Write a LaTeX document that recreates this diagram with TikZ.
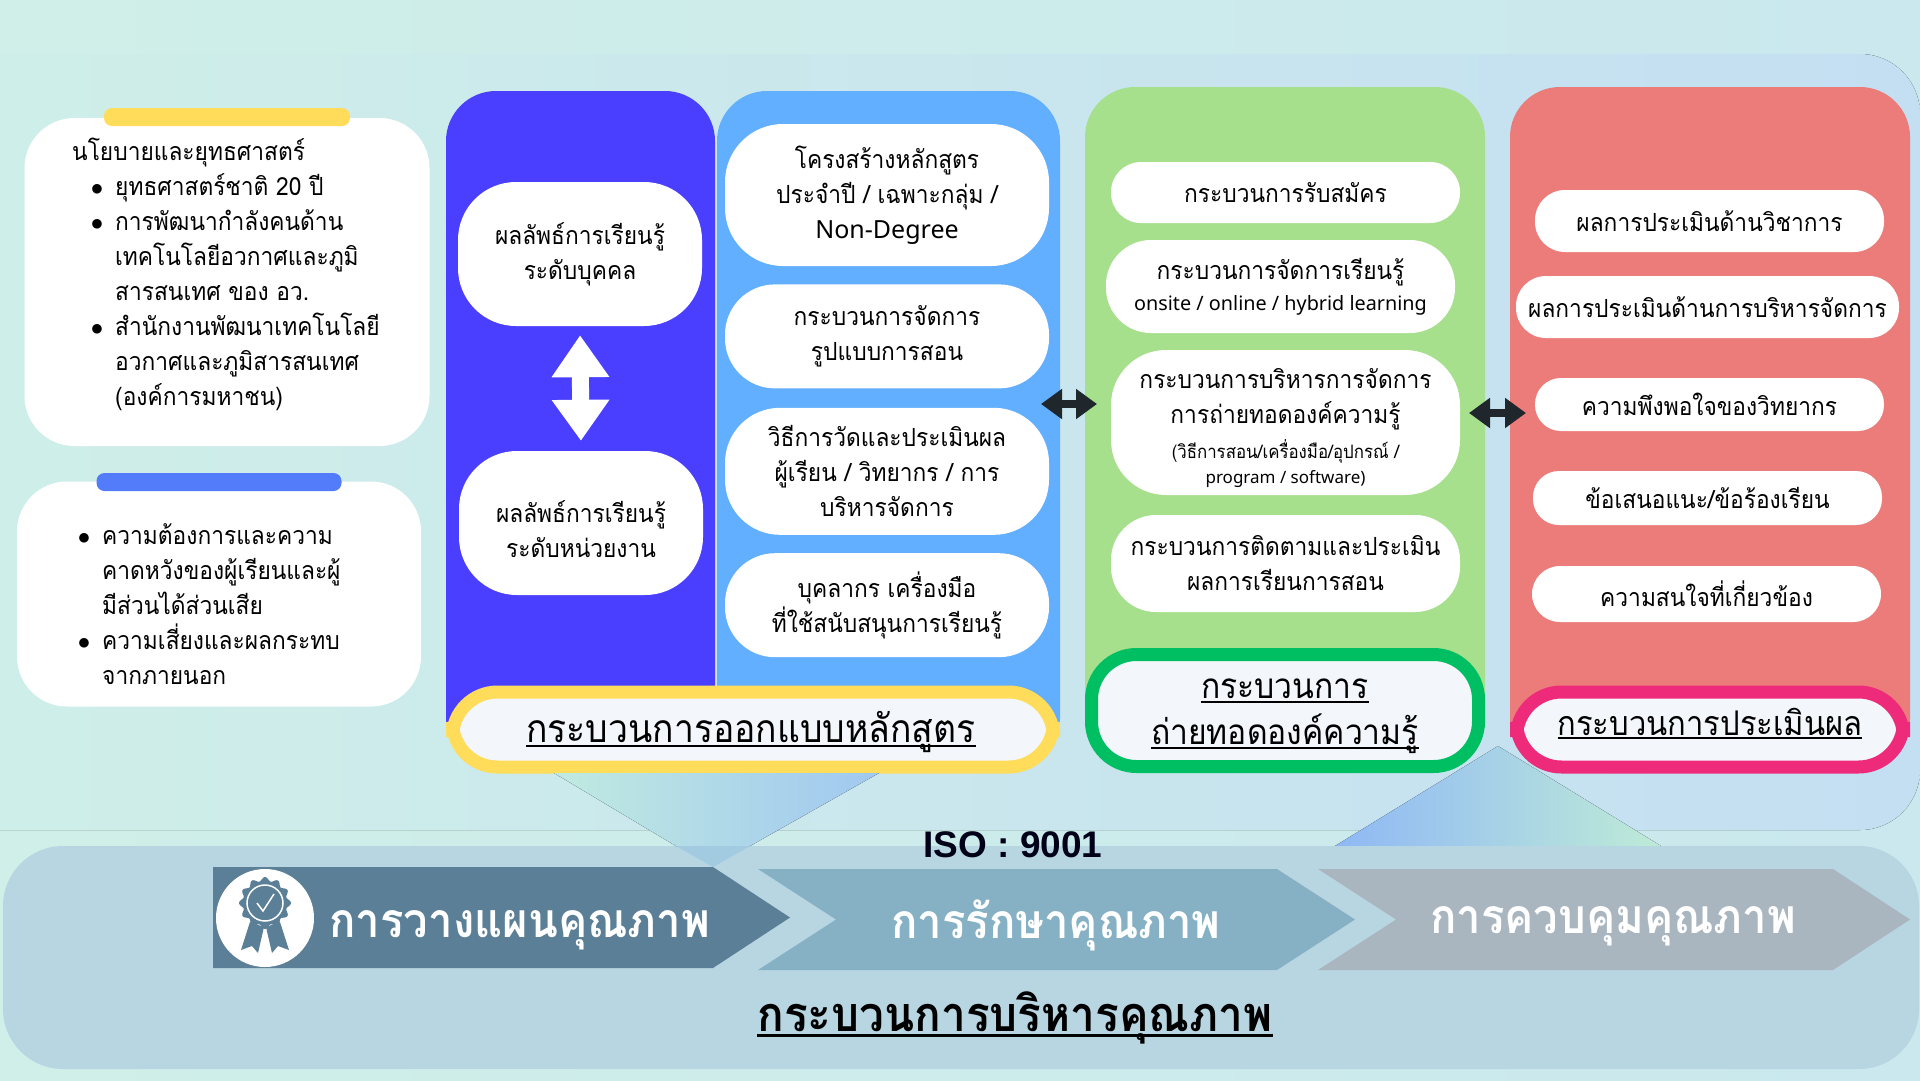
\documentclass[tikz,border=0pt]{standalone}
\usepackage{fontspec}
\usepackage{xcolor}
\usepackage{tikz}
\usetikzlibrary{positioning, arrows.meta, calc}
\setmainfont[Script=Thai, FakeStretch=0.91]{Loma}
\newfontfamily\latfont{Noto Sans}
\newfontfamily\isofont{Liberation Sans}
\definecolor{bgmint}{RGB}{207,239,232}
\definecolor{bgsky}{RGB}{202,232,238}
\definecolor{bandsky}{RGB}{196,223,242}
\definecolor{footbox}{RGB}{184,214,226}
\definecolor{colindigo}{RGB}{75,63,255}
\definecolor{colsky}{RGB}{98,174,255}
\definecolor{colgreen}{RGB}{166,224,140}
\definecolor{colred}{RGB}{236,124,122}
\definecolor{lbfill}{RGB}{243,246,251}
\definecolor{lbyellow}{RGB}{255,220,90}
\definecolor{lbgreen}{RGB}{0,191,99}
\definecolor{lbpink}{RGB}{238,42,123}
\definecolor{barblue}{RGB}{82,124,249}
\definecolor{arrowdark}{RGB}{31,38,44}
\definecolor{chevone}{RGB}{90,127,150}
\definecolor{chevtwo}{RGB}{134,176,196}
\definecolor{chevthree}{RGB}{169,182,191}
\definecolor{funnelleft}{RGB}{192,234,224}
\definecolor{funnelright}{RGB}{160,200,240}
\definecolor{funnelfoot}{RGB}{162,202,224}
\definecolor{peakleft}{RGB}{143,184,245}
\definecolor{peakright}{RGB}{190,235,215}
\newcommand{\bodyfont}{\fontsize{25}{35}\selectfont}
\newcommand{\smallfont}{\fontsize{18.5}{25}\selectfont}
\newcommand{\ultx}[1]{\setbox0=\hbox{#1}\leavevmode\rlap{\raisebox{-0.11em}{\rule{\wd0}{0.055em}}}\box0}
\tikzset{
    pill/.style={fill=white, rounded corners=#1, inner sep=0pt, align=center, font=\bodyfont},
    pill/.default=30,
    column/.style={fill=#1, rounded corners=50, inner sep=0pt},
    lbbox/.style={draw=#1, line width=13, fill=lbfill, rounded corners=45, inner sep=0pt, align=center},
    bar/.style={fill=#1, rounded corners=8, inner sep=0pt, minimum height=18},
    chevtext/.style={text=white, font=\fontsize{48}{50}\selectfont\bfseries},
    darkarrow/.style={arrowdark, line width=8, {Triangle[width=29, length=21]}-{Triangle[width=29, length=21]}},
}
\begin{document}
\begin{tikzpicture}[x=1pt, y=-1pt]
    \useasboundingbox (0,0) rectangle (1920,1080);
    \fill[bgmint] (0,0) rectangle (1920,1080);
    \fill[left color=bgmint, right color=bgsky] (0,0) rectangle (1920,1080);
    \fill[bgmint, rounded corners=60] (-100,54) rectangle (1920,830);
    \fill[left color=bgmint, right color=bandsky, rounded corners=60] (-100,54) rectangle (1920,830);
    % triangle behind the columns
    \fill[peakleft!50!peakright] (1335,846) -- (1498,746) -- (1661,846) -- cycle;
    \fill[left color=peakleft, right color=peakright] (1335,846) -- (1498,746) -- (1661,846) -- cycle;
    % left boxes
    \node[pill=50, minimum width=405, minimum height=328] (pol) at (227,282) {};
    \node[bar=lbyellow, minimum width=246] (polbar) at (227,117) {};
    \node[pill=50, minimum width=404, minimum height=225] (need) at (219,594) {};
    \node[bar=barblue, minimum width=245] (needbar) at (219,482) {};
    \node[anchor=north west, align=left, font=\bodyfont, inner sep=0pt] (poltx) at (72,138) {%
        นโยบายและยุทธศาสตร์\\
        \hspace*{43pt}\llap{$\bullet$\hspace{12pt}}ยุทธศาสตร์ชาติ 20 ปี\\
        \hspace*{43pt}\llap{$\bullet$\hspace{12pt}}การพัฒนากำลังคนด้าน\\
        \hspace*{43pt}เทคโนโลยีอวกาศและภูมิ\\
        \hspace*{43pt}สารสนเทศ ของ อว.\\
        \hspace*{43pt}\llap{$\bullet$\hspace{12pt}}สำนักงานพัฒนาเทคโนโลยี\\
        \hspace*{43pt}อวกาศและภูมิสารสนเทศ\\
        \hspace*{43pt}(องค์การมหาชน)};
    \node[anchor=north west, align=left, font=\bodyfont, inner sep=0pt] (needtx) at (102,523) {%
        \llap{$\bullet$\hspace{12pt}}ความต้องการและความ\\
        คาดหวังของผู้เรียนและผู้\\
        มีส่วนได้ส่วนเสีย\\
        \llap{$\bullet$\hspace{12pt}}ความเสี่ยงและผลกระทบ\\
        จากภายนอก};
    % columns
    \node[column=colindigo, minimum width=269, minimum height=679] (col1) at (580.5,430.5) {};
    \node[column=colsky, minimum width=343, minimum height=679] (col2) at (888.5,430.5) {};
    \node[column=colgreen, minimum width=400, minimum height=683] (col3) at (1285,428.5) {};
    \node[column=colred, minimum width=400, minimum height=683] (col4) at (1710,428.5) {};
    % column one
    \node[pill=58, minimum width=244, minimum height=144] (res1) at (580,254) {ผลลัพธ์การเรียนรู้\\ระดับบุคคล};
    \node[pill=58, minimum width=244, minimum height=144] (res2) at (581,523) {\rule{0pt}{34pt}ผลลัพธ์การเรียนรู้\\ระดับหน่วยงาน};
    \draw[white, line width=17, {Triangle[width=55, length=42]}-{Triangle[width=55, length=41]}, shorten <=9, shorten >=10] (res1.south) -- (res2.north);
    % column two
    \node[pill=58, minimum width=324, minimum height=142] (des1) at (887,195) {โครงสร้างหลักสูตร\\ประจำปี / เฉพาะกลุ่ม /\\{\latfont Non-Degree}};
    \node[pill=50, minimum width=324, minimum height=104, below=18pt of des1.south] (des2) {กระบวนการจัดการ\\รูปแบบการสอน};
    \node[pill=55, minimum width=324, minimum height=127, below=19pt of des2.south] (des3) {วิธีการวัดและประเมินผล\\ผู้เรียน / วิทยากร / การ\\บริหารจัดการ};
    \node[pill=50, minimum width=324, minimum height=104, below=18pt of des3.south] (des4) {บุคลากร เครื่องมือ\\ที่ใช้สนับสนุนการเรียนรู้};
    % column three
    \node[pill=30, minimum width=349, minimum height=61] (tr1) at (1285.5,192.5) {กระบวนการรับสมัคร};
    \node[pill=45, minimum width=349, minimum height=93] (tr2) at (1280.5,286.5) {กระบวนการจัดการเรียนรู้\\[-4pt]{\fontsize{19.8}{25}\selectfont\latfont onsite / online / hybrid learning}};
    \node[pill=55, minimum width=349, minimum height=145] (tr3) at (1285.5,422.5) {\rule{0pt}{32pt}กระบวนการบริหารการจัดการ\\การถ่ายทอดองค์ความรู้\\{\smallfont (วิธีการสอน/เครื่องมือ/อุปกรณ์ /}\\[-10pt]{\fontsize{17}{25}\selectfont\latfont program / software)}};
    \node[pill=45, minimum width=349, minimum height=97] (tr4) at (1285.5,563.5) {กระบวนการติดตามและประเมิน\\ผลการเรียนการสอน};
    % column four
    \node[pill=30, minimum width=349, minimum height=62] (ev1) at (1709.5,221) {ผลการประเมินด้านวิชาการ};
    \node[pill=30, minimum width=383, minimum height=62] (ev2) at (1707.5,307) {ผลการประเมินด้านการบริหารจัดการ};
    \node[pill=26, minimum width=349, minimum height=53] (ev3) at (1709.5,404.5) {ความพึงพอใจของวิทยากร};
    \node[pill=26, minimum width=349, minimum height=54] (ev4) at (1707.5,498) {ข้อเสนอแนะ/ข้อร้องเรียน};
    \node[pill=28, minimum width=349, minimum height=56] (ev5) at (1706.5,594) {ความสนใจที่เกี่ยวข้อง};
    % labels
    \node[lbbox=lbyellow, minimum width=601, minimum height=75, font=\fontsize{39}{50}\selectfont] (lb1) at (753,729.5) {\hspace*{-4pt}\rule{0pt}{36pt}\ultx{กระบวนการออกแบบหลักสูตร}};
    \node[lbbox=lbgreen, minimum width=387, minimum height=112, font=\fontsize{35}{46}\selectfont] (lb2) at (1285,710.5) {\rule{0pt}{32pt}\ultx{กระบวนการ}\\\ultx{ถ่ายทอดองค์ความรู้}};
    \node[lbbox=lbpink, minimum width=387, minimum height=75, font=\fontsize{34}{44}\selectfont] (lb3) at (1710,729.5) {\ultx{กระบวนการประเมินผล}\rule[-16pt]{0pt}{1pt}};
    % arrows between columns
    \coordinate (ar1a) at (1041,404);
    \coordinate (ar1b) at (1097,404);
    \coordinate (ar2a) at (1469,413);
    \coordinate (ar2b) at (1526,413);
    \draw[darkarrow] (ar1a) -- (ar1b);
    \draw[darkarrow] (ar2a) -- (ar2b);
    % foot
    \node[fill=footbox, rounded corners=60, inner sep=0pt, minimum width=1916, minimum height=223] (foot) at (961,957.5) {};
    \fill[funnelleft!50!funnelright] (554,773) -- (879,773) -- (750,846) -- (676,846) -- cycle;
    \fill[left color=funnelleft, right color=funnelright] (554,773) -- (879,773) -- (750,846) -- (676,846) -- cycle;
    \fill[funnelfoot] (676,846) -- (750,846) -- (713,867) -- cycle;
    \node[font=\fontsize{37}{42}\selectfont\isofont\bfseries, text=black!90!blue] (iso) at (1013,845) {ISO : 9001};
    \fill[chevone] (213,867) -- (713,867) -- (790,917.5) -- (713,968) -- (213,968) -- cycle;
    \fill[chevtwo] (758,869) -- (1277,869) -- (1355,919.5) -- (1277,970) -- (758,970) -- (836,919.5) -- cycle;
    \fill[chevthree] (1318,869) -- (1833,869) -- (1910,919.5) -- (1833,970) -- (1318,970) -- (1396,919.5) -- cycle;
    \node[fill=white, circle, inner sep=0pt, minimum size=98] (badge) at (265,918) {};
    \fill[chevone] plot[domain=0:360, samples=120, smooth] ({265+(24+2*cos(12*\x))*cos(\x)}, {903+(24+2*cos(12*\x))*sin(\x)});
    \fill[chevone] (250,922) -- (241,950) -- (252,946) -- (258,953) -- (264,927) -- cycle;
    \fill[chevone] (280,922) -- (289,950) -- (278,946) -- (272,953) -- (266,927) -- cycle;
    \draw[white, line width=1.5] (265,903) circle (18);
    \draw[white, line width=1.5] (257,903) -- (263,911) -- (274,894);
    \node[chevtext, anchor=west] (plan) at (326,930) {การวางแผนคุณภาพ};
    \node[chevtext] (keep) at (1056,925) {การรักษาคุณภาพ};
    \node[chevtext] (ctrl) at (1613,926) {การควบคุมคุณภาพ};
    \node[font=\fontsize{48.5}{50}\selectfont\bfseries] (title) at (1015,1018) {\ultx{กระบวนการบริหารคุณภาพ}};
\end{tikzpicture}
\end{document}
